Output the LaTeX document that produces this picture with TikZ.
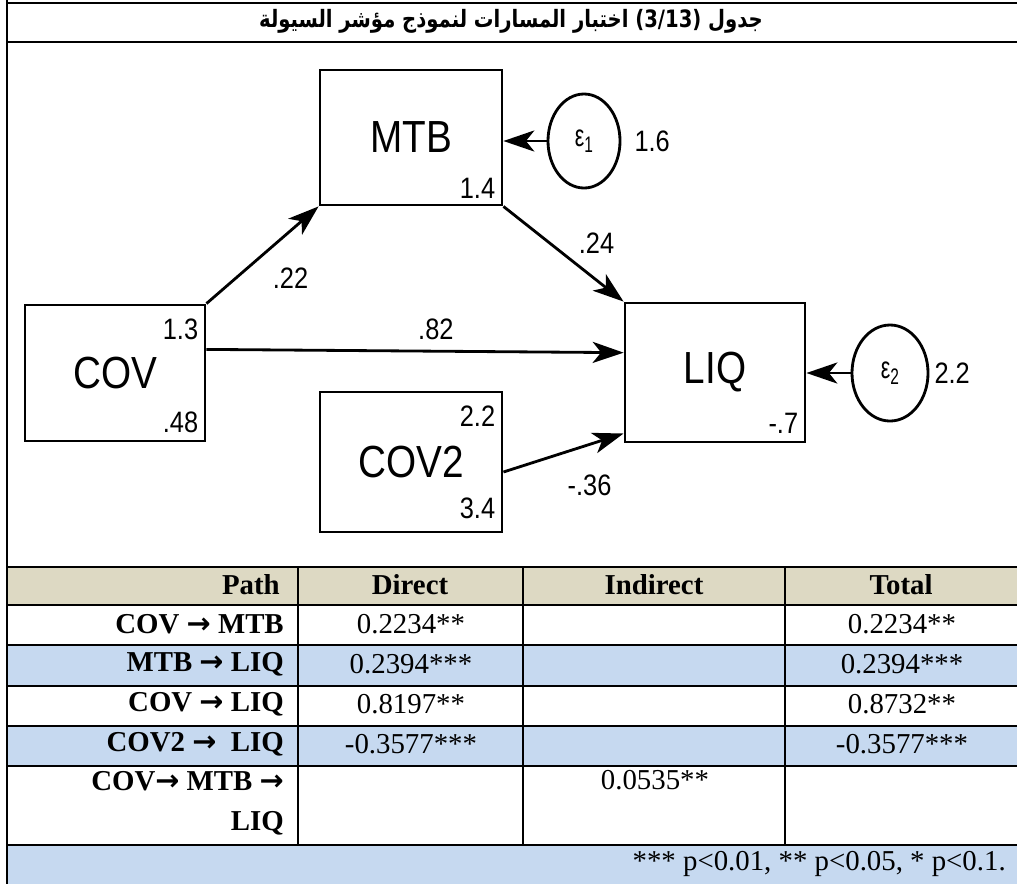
\documentclass[tikz,border=0pt]{standalone}
\usepackage{fontspec}
\setmainfont{Liberation Serif}
\newfontfamily\diagfont[FakeStretch=0.86]{Liberation Sans}
\newfontfamily\arabicfont[Script=Arabic, FakeStretch=0.82]{DejaVu Sans}
\newfontfamily\arrowfont{DejaVu Sans}
\TeXXeTstate=1
\usetikzlibrary{
  arrows.meta,
  shapes.geometric,
  positioning,
  calc
}
\definecolor{pathHead}{HTML}{DDD9C3}
\definecolor{pathBlue}{HTML}{C6D9F0}
\newcommand{\patharrow}{{\arrowfont\bfseries →}}
\tikzset{
  varbox/.style={
    draw, line width=2pt, inner sep=0pt,
    font=\diagfont\fontsize{32}{36}\selectfont
  },
  errnode/.style={draw, ellipse, line width=2pt, inner sep=0pt, font=\diagfont\fontsize{22}{24}\selectfont},
  coef/.style={font=\diagfont\fontsize{21}{24}\selectfont, inner sep=0pt},
  pathcoef/.style={coef},
  effect/.style={-{Stealth[length=22pt, width=15pt, inset=6pt]}, line width=2pt},
  gridline/.style={line width=1.4pt},
  titletext/.style={font=\arabicfont\bfseries\fontsize{17}{20}\selectfont, inner sep=0pt},
  cellhead/.style={font=\bfseries\fontsize{20.5}{24}\selectfont, inner sep=0pt},
  cellpath/.style={font=\bfseries\fontsize{20.5}{28.5}\selectfont, inner sep=0pt, anchor=east, align=right},
  cellval/.style={font=\fontsize{20.5}{24}\selectfont, inner sep=0pt}
}
\begin{document}
\begin{tikzpicture}[x=0.025cm, y=-0.025cm]
  \useasboundingbox (0,0) rectangle (1017,884);
  % table shading
  \foreach \ya/\yb/\col in {567/605/pathHead, 645/686/pathBlue, 726/766/pathBlue, 845/884/pathBlue}
    \fill[\col] (7,\ya) rectangle (1017,\yb);
  % frame and grid
  \draw[gridline] (7,0) -- (7,884);
  \draw[gridline] (7,3) -- (1017,3);
  \foreach \y in {42,567,605,645,686,726,766,845}
    \draw[gridline] (7,\y) -- (1017,\y);
  \foreach \x in {298,523,785}
    \draw[gridline] (\x,567) -- (\x,845);

  % title
  \node[titletext] (title) at (511,21) {\beginR جدول \beginL(3/13)\endL{} اختبار المسارات لنموذج مؤشر السيولة\endR};

  % path model
  \node[varbox, minimum width=4.55cm, minimum height=3.375cm] (mtb) at (411,137.5) {MTB};
  \node[varbox, minimum width=4.5cm, minimum height=3.4cm] (cov) at (115,373) {COV};
  \node[varbox, minimum width=4.55cm, minimum height=3.5cm] (cov2) at (411,462) {COV2};
  \node[varbox, minimum width=4.5cm, minimum height=3.475cm] (liq) at (715,372.5) {LIQ};
  \node[errnode, minimum width=1.8cm, minimum height=2.35cm] (eps1) at (584,141) {\scalebox{0.8}[1]{ε\raisebox{-4pt}{\fontsize{16}{16}\selectfont 1}}};
  \node[errnode, minimum width=1.9cm, minimum height=2.4cm] (eps2) at (890,373) {\scalebox{0.8}[1]{ε\raisebox{-4pt}{\fontsize{16}{16}\selectfont 2}}};

  \node[coef, anchor=south east] (mtbint) at ($(mtb.south east)+(-8,-8)$) {1.4};
  \node[coef, anchor=north east] (covmean) at ($(cov.north east)+(-8,15)$) {1.3};
  \node[coef, anchor=south east] (covvar) at ($(cov.south east)+(-8,-9)$) {.48};
  \node[coef, anchor=north east] (cov2mean) at ($(cov2.north east)+(-8,15)$) {2.2};
  \node[coef, anchor=south east] (cov2var) at ($(cov2.south east)+(-8,-14)$) {3.4};
  \node[coef, anchor=south east] (liqint) at ($(liq.south east)+(-8,-10)$) {-.7};
  \node[coef, right=0.32cm of eps1] (eps1var) {1.6};
  \node[coef, right=0.12cm of eps2] (eps2var) {2.2};

  \draw[effect] (cov.north east) -- node[pathcoef, pos=0.75, shift={(0,47)}] (bcovmtb) {.22} (mtb.south west);
  \draw[effect] (mtb.south east) -- node[pathcoef, pos=0.75, shift={(3,-35)}] (bmtbliq) {.24} (liq.north west);
  \draw[effect] ($(cov.north east)!0.33!(cov.south east)$) -- node[pathcoef, pos=0.55, shift={(0,-22)}] (bcovliq) {.82} ($(liq.north west)!0.36!(liq.south west)$);
  \draw[effect] ($(cov2.north east)!0.57!(cov2.south east)$) -- node[pathcoef, pos=0.7, shift={(2,40)}] (bcov2liq) {-.36} ($(liq.north west)!0.93!(liq.south west)$);
  \draw[effect] (eps1.west) -- (eps1.west -| mtb.east);
  \draw[effect] (eps2.west) -- (eps2.west -| liq.east);

  % table text
  \node[cellhead, anchor=east] (hpath) at (280,585) {Path};
  \node[cellhead] (hdirect) at (410,585) {Direct};
  \node[cellhead] (hindirect) at (654,585) {Indirect};
  \node[cellhead] (htotal) at (901,585) {Total};
  \foreach \y/\p/\d/\t [count=\i] in {
      624/COV \patharrow{} MTB/0.2234**/0.2234**,
      664/MTB \patharrow{} LIQ/0.2394***/0.2394***,
      704/COV \patharrow{} LIQ/0.8197**/0.8732**,
      744/COV2 \patharrow{}\ \ LIQ/-0.3577***/-0.3577***}{
    \node[cellpath] (p\i) at (284,\y) {\p};
    \node[cellval] (d\i) at (411,\y) {\d};
    \node[cellval] (t\i) at (902,\y) {\t};
  }
  \node[cellpath, anchor=north east] (p5) at (284,771) {COV\patharrow{} MTB \patharrow{}\\LIQ};
  \node[cellval] (i5) at (655,780) {0.0535**};
  \node[cellval, anchor=east] (note) at (1006,864) {*** p<0.01, ** p<0.05, * p<0.1.};
\end{tikzpicture}
\end{document}
